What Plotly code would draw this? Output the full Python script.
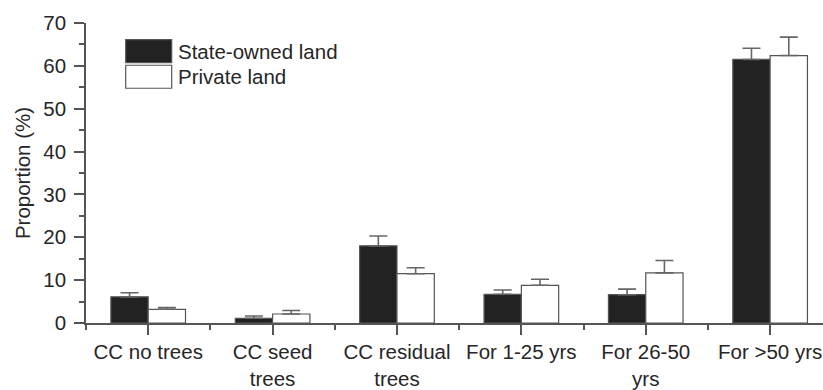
import plotly.graph_objects as go

# Land-use categories and their tick labels
categories = ["CC no trees", "CC seed trees", "CC residual trees",
              "For 1-25 yrs", "For 26-50 yrs", "For >50 yrs"]
tick_labels = ["CC no trees", "CC seed<br>trees", "CC residual<br>trees",
               "For 1-25 yrs", "For 26-50<br>yrs", "For >50 yrs"]

# Proportions (%) and standard errors
state_values = [6.1, 1.1, 18.0, 6.7, 6.6, 61.5]
state_errors = [0.95, 0.55, 2.3, 1.0, 1.3, 2.6]
private_values = [3.2, 2.1, 11.5, 8.8, 11.7, 62.4]
private_errors = [0.4, 0.8, 1.4, 1.4, 2.9, 4.3]

series_names = ["State-owned land", "Private land"]

FONT = "Liberation Sans, Arial, Helvetica, sans-serif"
FS = 20.5
TEXT = "#262626"
AXIS = "#555555"
ERR = "#666666"

x = list(range(len(categories)))

fig = go.Figure()
fig.add_trace(go.Bar(
    x=x, y=state_values, name=series_names[0],
    marker=dict(color="#222222", line=dict(color="#555555", width=1.2)),
    error_y=dict(type="data", symmetric=False, array=state_errors,
                 arrayminus=[0] * len(state_errors),
                 color=ERR, thickness=1.6, width=9),
    showlegend=False,
))
fig.add_trace(go.Bar(
    x=x, y=private_values, name=series_names[1],
    marker=dict(color="#ffffff", line=dict(color="#555555", width=1.2)),
    error_y=dict(type="data", symmetric=False, array=private_errors,
                 arrayminus=[0] * len(private_errors),
                 color=ERR, thickness=1.6, width=9),
    showlegend=False,
))

# Hand-drawn legend (large swatches)
legend_items = [("#222222", series_names[0]), ("#ffffff", series_names[1])]
for i, (col, label) in enumerate(legend_items):
    y0 = 39.3 + i * 25.7
    fig.add_shape(type="rect", xref="paper", yref="paper",
                  x0=(125.7 - 86) / 737, x1=(171.7 - 86) / 737,
                  y0=(323 - (y0 + 23)) / 300.3, y1=(323 - y0) / 300.3,
                  fillcolor=col, line=dict(color="#555555", width=1.2))
    fig.add_annotation(xref="paper", yref="paper",
                       x=(176 - 86) / 737, y=(323 - (y0 + 11.5)) / 300.3,
                       text=label, showarrow=False, xanchor="left",
                       yanchor="middle",
                       font=dict(family=FONT, size=FS, color=TEXT))

fig.update_layout(
    width=823, height=390,
    margin=dict(l=86, r=0, t=22.7, b=67),
    paper_bgcolor="white", plot_bgcolor="white",
    barmode="group", bargap=0.4, bargroupgap=0,
    font=dict(family=FONT, size=FS, color=TEXT),
    xaxis=dict(
        range=[-0.5, 5.425],
        tickvals=x, ticktext=tick_labels,
        showline=True, linecolor=AXIS, linewidth=1.5,
        ticks="outside", ticklen=10, tickwidth=1.5, tickcolor=AXIS,
        minor=dict(tickvals=[-0.5, 0.5, 1.5, 2.5, 3.5, 4.5],
                   ticks="outside", ticklen=5, tickwidth=1.5,
                   tickcolor=AXIS, showgrid=False),
        showgrid=False, zeroline=False,
        tickfont=dict(family=FONT, size=FS, color=TEXT),
    ),
    yaxis=dict(
        range=[0, 70],
        tickvals=[0, 10, 20, 30, 40, 50, 60, 70],
        showline=True, linecolor=AXIS, linewidth=1.5,
        ticks="outside", ticklen=10, tickwidth=1.5, tickcolor=AXIS,
        ticklabelstandoff=4,
        minor=dict(dtick=5, tick0=0, ticks="outside", ticklen=5,
                   tickwidth=1.5, tickcolor=AXIS, showgrid=False),
        showgrid=False, zeroline=False,
        tickfont=dict(family=FONT, size=FS, color=TEXT),
        title=dict(text="Proportion (%)", standoff=7,
                   font=dict(family=FONT, size=FS, color=TEXT)),
    ),
)

fig.write_html("out.html")
